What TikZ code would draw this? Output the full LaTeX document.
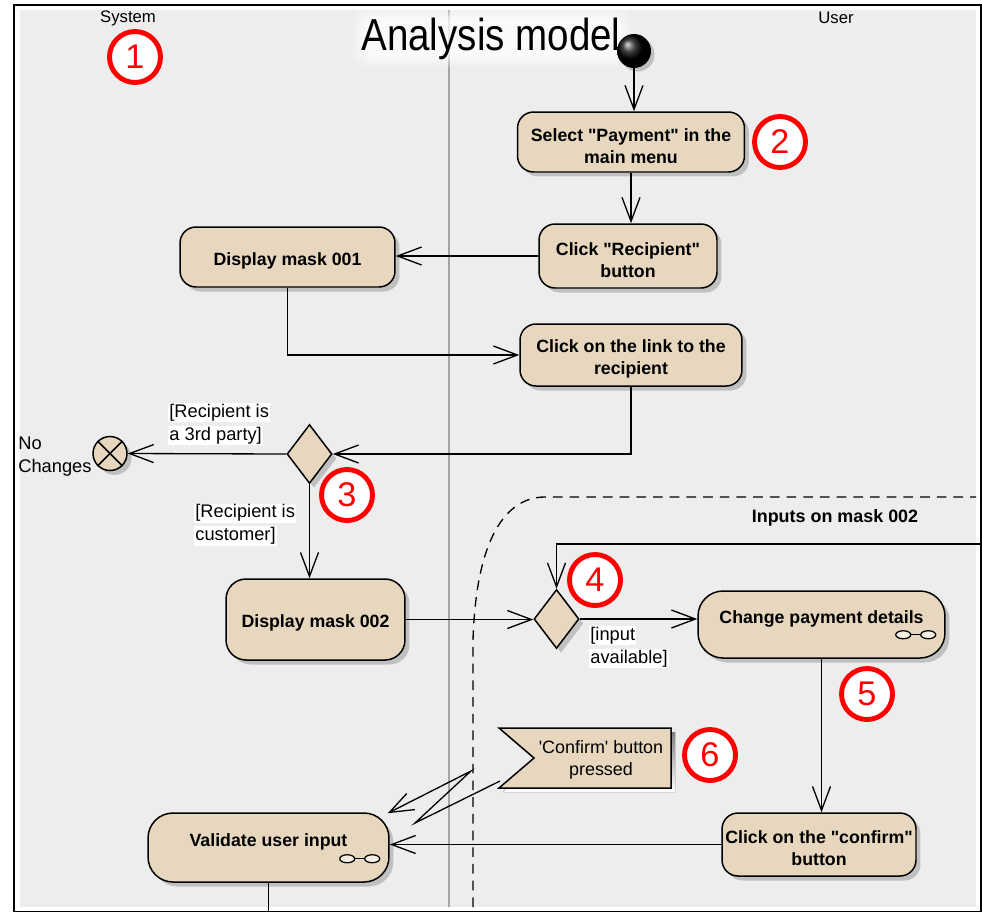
\documentclass[tikz,border=0pt]{standalone}
\usepackage{fontspec}
\newfontfamily\uifont{Liberation Sans}
\usetikzlibrary{arrows.meta,shapes.geometric,shadows,calc}
\definecolor{actfill}{RGB}{230,215,190}
\definecolor{lanebg}{RGB}{237,237,237}
\definecolor{lanerule}{RGB}{165,165,165}
\definecolor{shade}{RGB}{192,192,192}
\setlength{\fboxsep}{0.6pt}
\newcommand\guard[1]{\colorbox{white}{#1}}
\newcommand\topline{\rule{0pt}{11.6pt}}
\newcommand\rakeicon[1]{%
  \draw[line width=0.7pt] ($(#1.south east)+(-35,-24)$) -- ($(#1.south east)+(-25,-24)$);
  \draw[line width=0.7pt, fill=white!55!actfill] ($(#1.south east)+(-42.5,-24)$) ellipse [x radius=0.15cm, y radius=0.08cm];
  \draw[line width=0.7pt, fill=white!55!actfill] ($(#1.south east)+(-17.5,-24)$) ellipse [x radius=0.15cm, y radius=0.08cm];
}
\tikzset{
  softshadow/.style={general shadow={fill=shade, shadow xshift=0.09cm, shadow yshift=-0.09cm}},
  act/.style={draw=black, line width=0.85pt, fill=actfill, rounded corners=0.32cm,
    align=center, inner sep=0pt, font=\uifont\bfseries\fontsize{10.1}{12.5}\selectfont, softshadow},
  acttext/.style={align=center, inner sep=0pt, font=\uifont\bfseries\fontsize{10.1}{12.5}\selectfont},
  decision/.style={diamond, draw=black, line width=0.85pt, fill=actfill, inner sep=0pt,
    minimum width=0.9cm, minimum height=1.18cm, softshadow},
  final/.style={circle, draw=black, line width=0.85pt, fill=actfill, inner sep=0pt,
    minimum size=0.68cm, softshadow},
  flow/.style={line width=0.75pt, -{Straight Barb[length=0.48cm,width=0.36cm]}},
  badge/.style={circle, draw=red, line width=2.8pt, fill=white, minimum size=1.02cm,
    inner sep=0pt, text=red, font=\uifont\fontsize{19.5}{19.5}\selectfont},
  guardtxt/.style={align=left, inner sep=0pt, anchor=west, font=\uifont\fontsize{10.4}{13}\selectfont},
  lanelbl/.style={inner sep=0pt, font=\uifont\fontsize{9.5}{11}\selectfont},
  regionline/.style={line width=0.75pt, dash pattern=on 5.5pt off 4pt},
}
\begin{document}
\begin{tikzpicture}[x=0.02cm, y=-0.02cm]
\useasboundingbox (0,0) rectangle (982,913);

% frame and swimlanes
\fill[white] (14,5) rectangle (981,911.5);
\fill[lanebg] (20,10) rectangle (976,907);
\draw[line width=1.1pt] (14,5) rectangle (981,911.5);
\draw[lanerule, line width=0.8pt] (449,10) -- (449,907);
\node[lanelbl] (sys) at (128,18) {System};
\node[lanelbl] (usr) at (836,18) {User};

% title with a soft white halo
\foreach \g/\op in {12/0.15,9/0.2,6/0.25,3/0.3,0/0.35} {
  \fill[white, opacity=\op, rounded corners=8pt] (364-\g,19-\g) rectangle (620+\g,56+\g);
}
\node[anchor=base, inner sep=0pt, font=\uifont\fontsize{25.5}{28}\selectfont, xscale=0.86] (title) at (491,50) {Analysis model};

% interruptible region
\draw[regionline] (473,907) -- (473,640) .. controls (476,540) and (505,497) .. (545,497) -- (976,497);
\node[font=\uifont\bfseries\fontsize{10.2}{11}\selectfont, inner sep=0pt] (regionlbl) at (835,518) {Inputs on mask 002};

% initial node
\node[circle, inner sep=0pt, minimum size=0.68cm, ball color=black,
  general shadow={fill=shade, shadow xshift=0.07cm, shadow yshift=-0.07cm}] (start) at (634,51) {};

% activities
\node[act, minimum width=4.54cm, minimum height=1.2cm] (sel) at (631,142) {\topline Select "Payment" in the\\main menu};
\node[act, minimum width=3.56cm, minimum height=1.28cm] (rec) at (628,256) {\topline Click "Recipient"\\button};
\node[act, minimum width=4.3cm, minimum height=1.2cm] (m1) at (287.5,257) {\topline Display mask 001};
\node[act, minimum width=4.44cm, minimum height=1.24cm] (link) at (631,355) {\topline Click on the link to the\\recipient};
\node[decision] (d3) at (309.5,454) {};
\node[final] (ff) at (110,453.5) {};
\draw[line width=0.85pt] (ff.north west) -- (ff.south east) (ff.north east) -- (ff.south west);
\node[act, rounded corners=0.4cm, minimum width=3.58cm, minimum height=1.62cm] (m2) at (315.5,619.5) {\topline Display mask 002};
\node[decision] (d4) at (556.5,619) {};
\node[act, rounded corners=0.5cm, minimum width=4.94cm, minimum height=1.34cm] (chg) at (821.5,624.5) {};
\node[acttext] (chgtxt) at (821.5,619) {Change payment details};
\rakeicon{chg}
\node[act, minimum width=3.88cm, minimum height=1.26cm] (conf) at (819,844.5) {\topline Click on the "confirm"\\button};
\node[act, rounded corners=0.5cm, minimum width=4.82cm, minimum height=1.38cm] (val) at (268.5,847.5) {};
\node[acttext] (valtxt) at (268.5,842) {Validate user input};
\rakeicon{val}

% accept event signal
\coordinate (sigc) at (601,758);
\fill[shade] ($(sigc)+(-98,-26)$) -- ($(sigc)+(74,-26)$) -- ($(sigc)+(74,34)$) -- ($(sigc)+(-98,34)$) -- ($(sigc)+(-63,4)$) -- cycle;
\draw[line width=0.85pt, fill=actfill] ($(sigc)+(-102,-30)$) -- ($(sigc)+(70,-30)$) -- ($(sigc)+(70,30)$) -- ($(sigc)+(-102,30)$) -- ($(sigc)+(-67,0)$) -- cycle;
\node[align=center, inner sep=0pt, font=\uifont\fontsize{10.2}{12.5}\selectfont] (sig) at ($(sigc)+(0,2)$) {'Confirm' button\\pressed};

% control flows
\draw[flow] (start.south) -- (start.south |- sel.north);
\draw[flow] (sel.south) -- (sel.south |- rec.north);
\draw[flow] (rec.west) -- (rec.west -| m1.east);
\draw[flow] (m1.south) |- (link.west);
\draw[flow] (link.south) |- (d3.east);
\draw[flow] (d3.west) -- (ff.east);
\draw[flow] (d3.south) -- (d3.south |- m2.north);
\draw[flow] (m2.east) -- (m2.east -| d4.west);
\coordinate (loopsrc) at (980,544);
\draw[flow] (loopsrc) -| (d4.north);
\draw[flow] (d4.east) -- (d4.east -| chg.west);
\draw[flow] (chg.south) -- (chg.south |- conf.north);
\draw[flow] (conf.west) -- (conf.west -| val.east);
\coordinate (valout) at (270,911);
\draw[line width=0.75pt] (val.south) -- (val.south |- valout);

% interrupting edge
\coordinate (zA) at (415,823);
\coordinate (zB) at (471,771);
\draw[flow] ($(sigc)+(-101,23)$) -- (zA) -- (zB) -- ($(val.north east)+(-2,1)$);

% guards and labels
\node[guardtxt] (g3a) at (168,424) {\guard{[Recipient is}\\\guard{a 3rd party]}};
\node[guardtxt] (g3b) at (194,524.5) {\guard{[Recipient is}\\\guard{customer]}};
\node[guardtxt] (g4) at (589,647) {\guard{[input}\\\guard{available]}};
\node[guardtxt] (nochg) at (18,456.5) {No\\Changes};

% step markers
\node[badge] (b1) at (135,57) {1};
\node[badge] (b2) at (780,142) {2};
\node[badge] (b3) at (347,495) {3};
\node[badge] (b4) at (595,580) {4};
\node[badge] (b5) at (867,694) {5};
\node[badge] (b6) at (710,755) {6};
\end{tikzpicture}
\end{document}
